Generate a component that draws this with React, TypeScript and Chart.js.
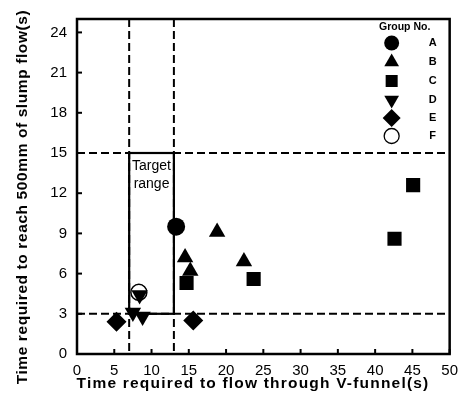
import React, { useEffect, useRef } from "react";
import { Chart, registerables } from "chart.js";
import { drawPoint } from "chart.js/helpers";

Chart.register(...registerables);

// ---- data ----
const xTicks = [0, 5, 10, 15, 20, 25, 30, 35, 40, 45, 50];
const yTicks = [0, 3, 6, 9, 12, 15, 18, 21, 24];
const groupNames = ["A", "B", "C", "D", "E", "F"];

const groupAX = [13.3];
const groupAY = [9.5];
const groupBX = [14.5, 15.2, 18.8, 22.4];
const groupBY = [7.2, 6.2, 9.1, 6.9];
const groupCX = [14.7, 23.7, 42.6, 45.1];
const groupCY = [5.3, 5.6, 8.6, 12.6];
const groupDX = [7.5, 8.8, 8.4];
const groupDY = [3.1, 2.8, 4.4];
const groupEX = [5.3, 15.6];
const groupEY = [2.4, 2.5];
const groupFX = [8.3];
const groupFY = [4.6];

const dashedX = [7, 13];
const dashedY = [3, 15];
const targetX = [7, 13];
const targetY = [3, 15];

const xTitle = "Time required to flow through V-funnel(s)";
const yTitle = "Time required to reach 500mm of slump flow(s)";
const targetText = ["Target", "range"];
const legendTitle = "Group No.";

const pts = (xs: number[], ys: number[]) => xs.map((x, i) => ({ x, y: ys[i] }));

const styles = [
  { pointStyle: "circle", radius: 9, rotation: 0, fill: "#000" },
  { pointStyle: "triangle", radius: 9.5, rotation: 0, fill: "#000" },
  { pointStyle: "rect", radius: 10, rotation: 0, fill: "#000" },
  { pointStyle: "triangle", radius: 9.5, rotation: 180, fill: "#000" },
  { pointStyle: "rectRot", radius: 10, rotation: 0, fill: "#000" },
  { pointStyle: "circle", radius: 8, rotation: 0, fill: "#fff" },
];
const legendStyles = [
  { pointStyle: "circle", radius: 7.5, rotation: 0, fill: "#000" },
  { pointStyle: "triangle", radius: 8.5, rotation: 0, fill: "#000" },
  { pointStyle: "rect", radius: 8.5, rotation: 0, fill: "#000" },
  { pointStyle: "triangle", radius: 8.5, rotation: 180, fill: "#000" },
  { pointStyle: "rectRot", radius: 9, rotation: 0, fill: "#000" },
  { pointStyle: "circle", radius: 7.5, rotation: 0, fill: "#fff" },
];

const FONT = "'Liberation Sans', Arial, sans-serif";

const decorPlugin = {
  id: "decor",
  beforeDatasetsDraw(chart: any) {
    const { ctx, chartArea: a } = chart;
    const xs = chart.scales.x;
    const ys = chart.scales.y;
    ctx.save();
    ctx.strokeStyle = "#000";
    // dashed lines
    ctx.lineWidth = 2;
    ctx.setLineDash([8, 4]);
    dashedX.forEach((v) => {
      const px = xs.getPixelForValue(v);
      ctx.beginPath();
      ctx.moveTo(px, a.top);
      ctx.lineTo(px, a.bottom);
      ctx.stroke();
    });
    dashedY.forEach((v) => {
      const py = ys.getPixelForValue(v);
      ctx.beginPath();
      ctx.moveTo(a.left, py);
      ctx.lineTo(a.right, py);
      ctx.stroke();
    });
    ctx.setLineDash([]);
    // target box
    const x0 = xs.getPixelForValue(targetX[0]);
    const x1 = xs.getPixelForValue(targetX[1]);
    const y0 = ys.getPixelForValue(targetY[0]);
    const y1 = ys.getPixelForValue(targetY[1]);
    ctx.lineWidth = 2.2;
    ctx.strokeRect(x0, y1, x1 - x0, y0 - y1);
    ctx.fillStyle = "#000";
    ctx.font = `14px ${FONT}`;
    ctx.textAlign = "center";
    ctx.textBaseline = "middle";
    ctx.fillText(targetText[0], (x0 + x1) / 2, y1 + 13);
    ctx.fillText(targetText[1], (x0 + x1) / 2, y1 + 31);
    // frame
    ctx.lineWidth = 2.5;
    ctx.strokeRect(a.left, a.top, a.right - a.left, a.bottom - a.top);
    // inner ticks
    ctx.lineWidth = 2;
    xTicks.forEach((v) => {
      const px = xs.getPixelForValue(v);
      ctx.beginPath();
      ctx.moveTo(px, a.bottom);
      ctx.lineTo(px, a.bottom - 5);
      ctx.stroke();
    });
    yTicks.forEach((v) => {
      const py = ys.getPixelForValue(v);
      ctx.beginPath();
      ctx.moveTo(a.left, py);
      ctx.lineTo(a.left + 5, py);
      ctx.stroke();
    });
    // axis titles
    ctx.fillStyle = "#000";
    ctx.textAlign = "center";
    ctx.textBaseline = "middle";
    ctx.font = `bold 15.5px ${FONT}`;
    (ctx as any).letterSpacing = "1.2px";
    ctx.fillText(xTitle, 253, 384);
    ctx.save();
    ctx.translate(23, 197);
    ctx.rotate(-Math.PI / 2);
    (ctx as any).letterSpacing = "0.6px";
    ctx.fillText(yTitle, 0, 0);
    ctx.restore();
    (ctx as any).letterSpacing = "0px";
    ctx.restore();
  },
  afterDatasetsDraw(chart: any) {
    const { ctx, chartArea: a } = chart;
    ctx.save();
    ctx.fillStyle = "#000";
    ctx.font = `bold 10.5px ${FONT}`;
    ctx.textAlign = "center";
    ctx.textBaseline = "middle";
    ctx.fillText(legendTitle, a.right - 45, a.top + 8);
    const rowY = [43, 62, 81, 100, 118, 136];
    groupNames.forEach((g, i) => {
      const s = legendStyles[i];
      const y = rowY[i];
      ctx.fillStyle = s.fill;
      ctx.strokeStyle = "#000";
      ctx.lineWidth = 1.3;
      drawPoint(ctx, { pointStyle: s.pointStyle, rotation: s.rotation, radius: s.radius, borderWidth: i === 5 ? 1.3 : 0 } as any, a.right - 58, y);
      ctx.fillStyle = "#000";
      ctx.font = `bold 11px ${FONT}`;
      ctx.fillText(g, a.right - 17, y);
    });
    ctx.restore();
  },
};

export default function App() {
  const ref = useRef<HTMLCanvasElement | null>(null);
  useEffect(() => {
    if (!ref.current) return;
    const series = [
      pts(groupAX, groupAY),
      pts(groupBX, groupBY),
      pts(groupCX, groupCY),
      pts(groupDX, groupDY),
      pts(groupEX, groupEY),
      pts(groupFX, groupFY),
    ];
    const chart = new Chart(ref.current, {
      type: "scatter",
      data: {
        datasets: series.map((d, i) => ({
          label: groupNames[i],
          data: d,
          pointStyle: styles[i].pointStyle as any,
          pointRadius: styles[i].radius,
          pointRotation: styles[i].rotation,
          backgroundColor: styles[i].fill,
          borderColor: "#000",
          borderWidth: i === 5 ? 1.5 : 0,
        })),
      },
      options: {
        animation: false,
        responsive: false,
        devicePixelRatio: 1,
        layout: { padding: { top: 18, right: 13, left: 0, bottom: 0 } },
        plugins: { legend: { display: false }, tooltip: { enabled: false } },
        scales: {
          x: {
            type: "linear",
            min: 0,
            max: 50,
            afterBuildTicks: (s: any) => {
              s.ticks = xTicks.map((v) => ({ value: v }));
            },
            afterFit: (s: any) => {
              s.height = 51;
            },
            grid: { display: false, drawTicks: false },
            border: { display: false },
            ticks: { color: "#000", font: { family: FONT, size: 15 }, padding: 8, maxRotation: 0, autoSkip: false },
            title: { display: false },
          },
          y: {
            type: "linear",
            min: 0,
            max: 25,
            afterBuildTicks: (s: any) => {
              s.ticks = yTicks.map((v) => ({ value: v }));
            },
            afterFit: (s: any) => {
              s.width = 77;
            },
            grid: { display: false, drawTicks: false },
            border: { display: false },
            ticks: { color: "#000", font: { family: FONT, size: 15 }, padding: 10, autoSkip: false },
            title: { display: false },
          },
        },
      },
      plugins: [decorPlugin],
    });
    return () => chart.destroy();
  }, []);
  return (
    <div style={{ position: "fixed", left: 0, top: 0, width: 466, height: 405, background: "#fff" }}>
      <canvas ref={ref} width={466} height={405} />
    </div>
  );
}
